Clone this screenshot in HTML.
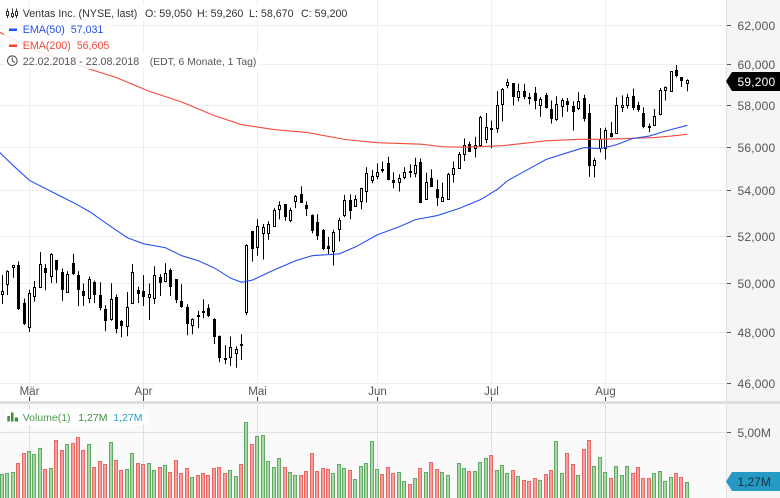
<!DOCTYPE html>
<html lang="de">
<head>
<meta charset="utf-8">
<title>Ventas Inc. Chart</title>
<style>
html,body{margin:0;padding:0;background:#fff;}
#chart{display:block;width:780px;height:498px;font-family:"Liberation Sans",sans-serif;}
text{font-family:"Liberation Sans",sans-serif;}
</style>
</head>
<body>
<svg id="chart" xmlns="http://www.w3.org/2000/svg" width="780" height="498" viewBox="0 0 780 498">
  <rect x="0" y="0" width="727" height="401" fill="#ffffff"/>
  <rect x="0" y="403" width="727" height="95" fill="#fafafa"/>
  <rect x="727" y="0" width="53" height="498" fill="#f5f5f5"/>
  <g id="grid"></g>
  <rect x="0" y="401" width="780" height="3" fill="#dedede"/>
  <line x1="726.5" y1="0" x2="726.5" y2="498" stroke="#e0e0e0"/>
  <g id="volumes"></g>
  <g id="candles"></g>
  <path id="ema200" fill="none" stroke="#f4493c" stroke-width="1.1"/>
  <path id="ema50" fill="none" stroke="#2a50f0" stroke-width="1.1"/>
  <g id="axis"></g>

  <g font-size="10.7">
    <rect x="4" y="5" width="346" height="16" fill="#fff" fill-opacity="0.85"/>
    <rect x="4" y="21" width="106" height="32" fill="#fff" fill-opacity="0.85"/>
    <rect x="4" y="53" width="256" height="16" fill="#fff" fill-opacity="0.85"/>
    <g stroke="#333" fill="#fff">
      <path d="M7.5 8.5V18M12.5 8.5V18M16.5 8.500V18" fill="none"/>
      <rect x="6.500" y="11.500" width="2" height="4"/>
      <rect x="11.500" y="13.500" width="2" height="3"/>
      <rect x="15.500" y="11.500" width="2" height="4"/>
    </g>
    <text x="22.700" y="17" fill="#333">Ventas Inc. (NYSE, last)</text>
    <text x="145" y="17" fill="#333">O: 59,050</text>
    <text x="197" y="17" fill="#333">H: 59,260</text>
    <text x="249" y="17" fill="#333">L: 58,670</text>
    <text x="301" y="17" fill="#333">C: 59,200</text>
    <rect x="9" y="28.500" width="8" height="2.500" fill="#1f4fff"/>
    <text x="22.700" y="33" fill="#2a50f0">EMA(50)</text>
    <text x="70.700" y="33" fill="#2a50f0">57,031</text>
    <rect x="9" y="44.500" width="8" height="2.500" fill="#f4432f"/>
    <text x="22.700" y="49" fill="#f4493c">EMA(200)</text>
    <text x="76.700" y="49" fill="#f4493c">56,605</text>
    <g fill="none" stroke="#444">
      <circle cx="12.300" cy="60.700" r="4.800"/>
      <path d="M12.300 57.500V61L15 62.500"/>
    </g>
    <text x="22.700" y="65" fill="#555">22.02.2018 - 22.08.2018</text>
    <text x="149.700" y="65" fill="#555" font-size="10.4">(EDT, 6 Monate, 1 Tag)</text>
  </g>

  <g font-size="10.5">
    <rect x="5" y="409" width="143" height="16" fill="#fff" fill-opacity="0.85"/>
    <g fill="#3d8f3d">
      <rect x="7.300" y="416" width="2.500" height="5.500"/>
      <rect x="11" y="412.500" width="2.500" height="9"/>
      <rect x="14.700" y="417.500" width="3.300" height="4"/>
    </g>
    <text x="22.700" y="421" fill="#4a9a4a">Volume(1)</text>
    <text x="78.300" y="421" fill="#3d8f3d">1,27M</text>
    <text x="113.300" y="421" fill="#2a9fc9">1,27M</text>
  </g>

  <g>
    <polygon points="726,81.300 732,72 780,72 780,91 732,91" fill="#000"/>
    <text x="737.500" y="86" font-size="12" fill="#fff" letter-spacing="0.200">59,200</text>
  </g>
  <g>
    <polygon points="726,481.500 732,472 780,472 780,491 732,491" fill="#2699c4"/>
    <text x="737.500" y="486" font-size="12" fill="#14303c">1,27M</text>
  </g>
</svg>

<script>
const openPrices = [
49.56,49.95,50.65,50.77,49.17,48.19,49.48,49.84,50.64,50.28,
50.97,50.45,49.62,50.84,50.33,49.66,49.37,50.07,49.50,48.93,
48.52,49.42,48.44,48.26,49.17,49.70,49.66,49.44,49.37,50.28,
50.09,50.54,50.16,49.25,49.01,48.31,48.68,48.84,48.97,48.52,
47.84,46.99,46.99,47.15,47.55,48.79,52.21,51.53,52.12,52.12,
52.47,53.19,53.39,52.70,53.54,53.87,53.35,52.93,52.62,52.28,
51.59,51.34,52.30,52.92,53.60,53.32,53.54,54.00,54.53,54.67,
55.01,55.28,54.50,54.41,54.64,54.92,54.81,55.30,53.64,54.60,
54.09,53.54,53.63,54.78,55.05,55.69,56.16,55.94,56.13,56.38,
56.90,56.89,58.03,58.96,59.07,58.37,58.68,58.39,58.59,58.00,
58.50,57.81,57.32,57.94,58.19,57.97,57.86,58.34,57.62,55.16,
55.97,55.95,56.67,56.67,57.90,58.00,58.44,58.00,57.62,57.00,
57.05,57.56,58.72,58.68,59.72,59.36,59.05];
const highPrices = [
50.34,50.55,50.77,50.92,49.37,49.74,50.09,51.31,50.80,51.26,
50.98,50.62,50.50,51.24,50.50,49.99,50.28,50.11,50.04,49.09,
50.00,49.54,48.49,49.63,50.81,49.86,50.34,49.99,50.71,50.38,
50.84,50.62,50.16,49.96,49.13,48.56,48.86,49.33,49.13,48.56,
47.87,47.48,47.83,47.44,47.92,51.65,52.23,52.74,52.53,52.65,
53.23,53.53,53.39,53.25,53.81,54.20,53.53,52.95,52.96,52.31,
51.97,52.28,52.80,53.82,53.84,53.81,54.14,55.07,54.95,55.25,
55.33,55.56,54.84,54.75,55.07,55.21,55.51,55.48,54.82,54.98,
54.50,54.37,54.82,55.34,55.77,56.41,56.26,56.48,57.48,57.62,
57.25,58.68,58.83,59.28,59.07,59.04,59.04,58.59,58.88,58.39,
58.59,58.22,58.42,58.33,58.34,58.18,58.63,58.50,58.05,55.51,
56.90,56.92,57.19,58.37,58.47,58.54,58.80,58.16,57.89,57.11,
57.81,58.83,58.91,59.65,59.97,59.36,59.26];
const lowPrices = [
49.14,49.51,50.23,48.90,48.29,48.01,49.24,49.81,49.71,50.01,
50.01,49.27,49.61,50.34,49.06,49.06,49.18,49.18,48.88,48.04,
48.46,47.96,47.80,47.84,49.16,49.18,49.06,48.49,49.14,49.47,
50.04,49.47,49.18,48.99,47.88,47.92,48.16,48.56,48.61,47.53,
46.82,46.74,46.68,46.60,46.90,48.69,50.91,51.16,51.00,51.84,
52.43,52.73,52.67,52.61,53.23,53.45,52.88,52.12,51.84,51.39,
51.24,50.74,51.77,52.83,52.73,53.29,53.17,53.48,54.34,54.52,
54.82,54.47,54.11,53.97,54.53,54.61,54.61,53.45,53.63,54.17,
53.32,53.53,53.59,54.37,55.01,55.36,55.77,55.53,56.11,56.19,
55.95,56.67,57.21,58.81,57.98,58.18,58.29,58.03,57.79,57.44,
57.84,57.11,57.24,57.43,57.68,56.78,57.76,57.21,54.64,54.61,
55.76,55.43,56.46,56.63,57.67,57.83,57.76,57.67,56.89,56.70,
57.03,57.51,58.22,58.67,59.35,58.88,58.67];
const closePrices = [
49.67,50.50,50.75,48.93,48.30,49.58,49.86,50.80,50.44,51.22,
50.53,49.69,50.37,50.37,49.69,49.44,50.16,49.52,48.98,48.46,
49.33,48.10,48.22,49.01,50.45,49.54,49.40,49.56,50.33,50.03,
50.41,49.82,49.27,48.99,48.34,48.54,48.63,48.79,48.63,47.78,
46.99,46.95,47.40,47.32,47.46,51.60,51.43,52.43,52.39,52.53,
53.16,53.38,52.83,53.16,53.78,53.48,53.19,52.25,52.03,51.47,
51.47,52.18,52.71,53.60,53.10,53.63,54.12,54.82,54.69,54.87,
54.95,54.49,54.35,54.60,54.87,54.89,55.19,53.45,54.41,54.21,
53.67,53.73,54.78,55.05,55.69,56.11,55.79,56.08,57.44,56.95,
56.86,58.00,58.78,59.12,58.37,58.68,58.37,58.36,58.18,58.29,
57.87,57.32,58.05,58.24,57.98,57.70,58.19,57.32,55.11,55.40,
56.40,56.81,56.46,58.00,58.00,58.39,57.87,57.78,56.94,56.97,
57.48,58.73,58.88,59.65,59.40,59.14,59.20];
const volumesM = [
1.83,1.91,1.98,2.66,3.42,3.57,3.35,3.80,2.21,2.29,
4.41,3.65,4.10,4.18,4.63,3.65,4.10,2.36,2.82,2.59,
4.25,2.89,2.13,2.21,3.42,2.66,2.59,2.66,2.13,2.36,
2.51,1.98,2.89,1.91,2.29,1.60,1.75,1.91,1.75,2.29,
2.36,1.91,2.13,1.68,2.59,5.77,4.10,4.71,4.78,2.82,
2.36,3.04,2.36,1.98,1.75,1.75,2.06,3.42,2.06,2.29,
2.21,1.91,2.59,2.29,2.13,1.45,2.44,2.66,4.33,2.21,
1.83,2.36,1.91,1.98,1.30,1.07,1.53,2.29,1.98,2.74,
2.21,1.98,1.75,0,2.66,2.29,2.06,2.06,2.74,3.04,
3.27,2.13,2.51,1.91,2.13,1.68,1.38,1.30,1.53,1.38,
1.83,2.13,4.33,1.91,3.42,2.59,1.75,3.72,4.41,2.44,
3.12,1.98,1.53,2.44,1.75,2.44,1.91,2.36,1.53,1.53,
1.91,2.06,1.30,1.60,1.91,1.60,1.27];
const ema50Days = [-1,2,5,9,13,16,20,23,26,30,33,36,39,42,44,46,50,54,57,62,65,69,73,76,80,84,88,91,93,96,100,104,107,110,113,116,119,122,126];
const ema50Values = [55.88,55.15,54.47,53.97,53.48,53.08,52.41,51.93,51.67,51.50,51.16,50.95,50.64,50.21,50.04,50.13,50.56,50.95,51.16,51.24,51.54,52.06,52.41,52.72,52.90,53.21,53.61,54.06,54.47,54.88,55.43,55.75,55.98,55.93,56.12,56.41,56.52,56.76,57.03];
const ema200Days = [-1,7,16,21,27,33,39,44,50,56,63,69,77,81,85,92,96,100,106,110,114,120,123,126];
const ema200Values = [61.69,60.61,59.77,59.34,58.67,58.15,57.49,57.06,56.83,56.69,56.36,56.21,56.14,56.02,56.00,56.07,56.18,56.30,56.37,56.37,56.40,56.45,56.52,56.605];
const priceTicks = [46,48,50,52,54,56,58,60,62];
const priceTickLabels = ["46,000","48,000","50,000","52,000","54,000","56,000","58,000","60,000","62,000"];
const monthLabels = ["Mär","Apr","Mai","Jun","Jul","Aug"];
const monthDays = [5,26,47,69,90,111];
const volumeTicks = [5];
const volumeTickLabels = ["5,00M"];

const SVG_NS = "http://www.w3.org/2000/svg";
function xScale(i){ return 2.33 + 5.437 * i; }
function yScale(p){ return 25 + 1200.4 * Math.log(62 / p); }
function vScale(v){ return 498.5 - 13.2 * v; }
function snap(v){ return Math.floor(v) + 0.5; }
function make(tag, attrs, parent){
  const el = document.createElementNS(SVG_NS, tag);
  for (const k in attrs) el.setAttribute(k, attrs[k]);
  parent.appendChild(el);
  return el;
}
const gridG = document.getElementById("grid");
const axisG = document.getElementById("axis");
const candlesG = document.getElementById("candles");
const volumesG = document.getElementById("volumes");

priceTicks.forEach(function(p, i){
  const y = snap(yScale(p));
  const line = make("line", {x1:0, x2:726, y1:y, y2:y, stroke:"#eeeeee"}, gridG);
  
  
  const tick = make("line", {x1:727, x2:731, y1:y, y2:y, stroke:"#555"}, axisG);
  
  
  const label = make("text", {x:737.5, y:y + 4.5, "font-size":12, fill:"#555", "letter-spacing":0.2}, axisG);
  
  
  label.textContent = priceTickLabels[i];
});
volumeTicks.forEach(function(v, i){
  const y = snap(vScale(v));
  const line = make("line", {x1:0, x2:726, y1:y, y2:y, stroke:"#e0e0e0"}, gridG);
  
  
  const tick = make("line", {x1:727, x2:731, y1:y, y2:y, stroke:"#555"}, axisG);
  
  
  const label = make("text", {x:737.5, y:y + 4.5, "font-size":12, fill:"#555"}, axisG);
  
  
  label.textContent = volumeTickLabels[i];
});
monthDays.forEach(function(d, i){
  const x = snap(xScale(d));
  const upper = make("line", {x1:x, x2:x, y1:0, y2:398, stroke:"#eeeeee"}, gridG);
  
  
  const lower = make("line", {x1:x, x2:x, y1:404, y2:498, stroke:"#e0e0e0"}, gridG);
  
  
  const tick = make("line", {x1:x, x2:x, y1:397, y2:401, stroke:"#444"}, axisG);
  
  
  const label = make("text", {x:x, y:395, "font-size":11.5, fill:"#555", "text-anchor":"middle"}, axisG);
  
  
  label.textContent = monthLabels[i];
});

volumesM.forEach(function(v, i){
  if (v <= 0) return;
  const up = closePrices[i] >= openPrices[i];
  const c = Math.floor(xScale(i));
  const top = Math.round(vScale(v)) + 0.5;
  const bar = make("rect", {x:c - 1.5, y:top, width:3, height:500 - top,
    fill: up ? "#a8d8a3" : "#f5a09e", stroke: up ? "#5fab63" : "#ec6664", "stroke-width":1}, volumesG);
  
  
});

openPrices.forEach(function(o, i){
  const cl = closePrices[i];
  const up = cl >= o;
  const c = snap(xScale(i));
  const wick = make("line", {x1:c, x2:c, y1:yScale(highPrices[i]), y2:yScale(lowPrices[i]), stroke:"#000", "stroke-width":1}, candlesG);
  
  
  const top = yScale(Math.max(o, cl));
  const bot = yScale(Math.min(o, cl));
  let body;
  if (up) {
    const t = Math.round(top) + 0.5;
    const h = Math.max(1, Math.round(bot - top));
    body = make("rect", {x:c - 1, y:t, width:2, height:h, fill:"#fff", stroke:"#000", "stroke-width":1}, candlesG);
  } else {
    const t = Math.round(top);
    const h = Math.max(2, Math.round(bot - top));
    body = make("rect", {x:c - 1.5, y:t, width:3, height:h, fill:"#000"}, candlesG);
  }
  
  
});

function linePath(days, values){
  return days.map(function(d, i){
    return (i ? "L" : "M") + xScale(d).toFixed(2) + " " + yScale(values[i]).toFixed(2);
  }).join("");
}
document.getElementById("ema50").setAttribute("d", linePath(ema50Days, ema50Values));
document.getElementById("ema200").setAttribute("d", linePath(ema200Days, ema200Values));
</script>
</body>
</html>
